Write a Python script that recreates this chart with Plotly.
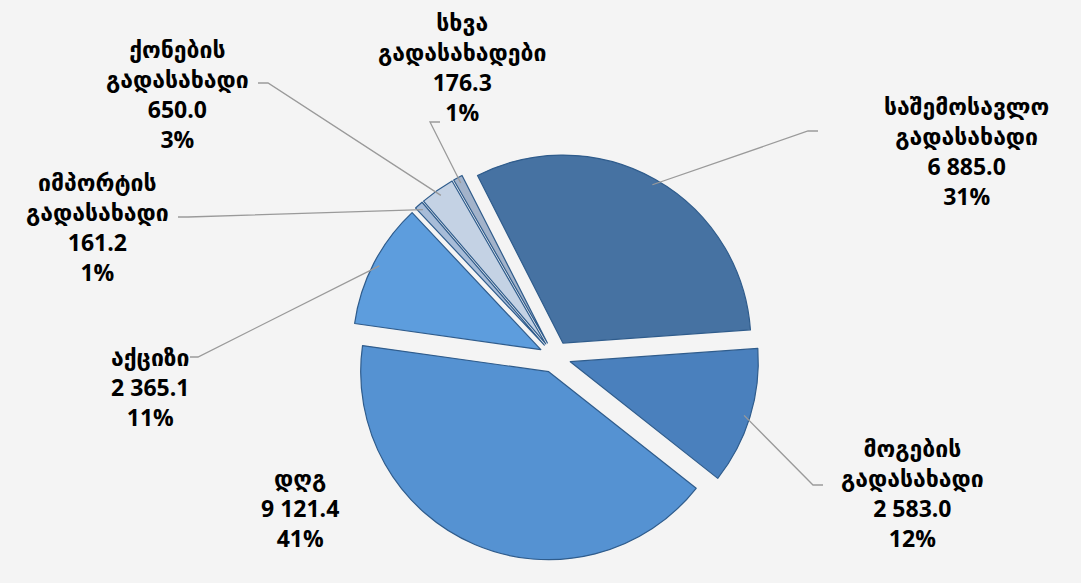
import math
import plotly.graph_objects as go

# ---- data ----
categories = ["საშემოსავლო გადასახადი", "მოგების გადასახადი", "დღგ", "აქციზი",
              "იმპორტის გადასახადი", "ქონების გადასახადი", "სხვა გადასახადები"]
values = [6885.0, 2583.0, 9121.4, 2365.1, 161.2, 650.0, 176.3]
percent_labels = [31, 12, 41, 11, 1, 3, 1]

# ---- style ----
colors = ["#4672A2", "#4A80BD", "#5592D2", "#5D9DDD", "#A7BCD8", "#C4D2E4", "#A3B3CA"]
W, H = 1081, 583
CX, CY = 555, 357      # pie centre in px
R_OUT = 204            # half-size of pie box (includes pull)
PULL = 0.085
ROTATION = -27
FONT = "Open Sans, DejaVu Sans, sans-serif"
BG = "#F4F4F4"

# label placement: (centre x, centre y, leader start x, leader start y, stub dx) in px
label_pos = [
    (966, 151, 818, 131, -10),
    (912, 493, 823, 485, -10),
    (300, 508, None, None, 0),
    (150, 387, 190, 357, 8),
    (97, 227, 178, 217, 10),
    (177, 94, 258, 83, 10),
    (462, 67, 440, 122, -10),
]

domain_x = [(CX - R_OUT) / W, (CX + R_OUT) / W]
domain_y = [1 - (CY + R_OUT) / H, 1 - (CY - R_OUT) / H]
total = sum(values)


def px(x):
    return x / W


def py(y):
    return 1 - y / H


fig = go.Figure(go.Pie(
    labels=categories, values=values, sort=False, direction="clockwise",
    rotation=ROTATION, pull=PULL, textinfo="none", hoverinfo="label+value+percent",
    marker=dict(colors=colors, line=dict(color="#2F5C8C", width=1.2)),
    domain=dict(x=domain_x, y=domain_y), showlegend=False,
))

annotations = []
shapes = []
cum = 0.0
for name, v, pct, pos in zip(categories, values, percent_labels, label_pos):
    mid = math.radians(ROTATION + 360 * (cum + v / 2) / total)
    cum += v
    lx, ly, sx, sy, sdx = pos
    val_txt = f"{v:,.1f}".replace(",", " ")
    text = "<b>" + name.replace(" ", "<br>") + f"<br>{val_txt}<br>{pct}%</b>"
    annotations.append(dict(
        x=px(lx), y=py(ly), xref="paper", yref="paper", text=text, showarrow=False,
        xanchor="center", yanchor="middle", align="center",
        font=dict(family=FONT, size=23, color="#000000"),
    ))
    if sx is not None:
        ex = CX + R_OUT * 0.97 * math.sin(mid)
        ey = CY - R_OUT * 0.97 * math.cos(mid)
        bx = sx + sdx
        path = f"M {px(sx)} {py(sy)} L {px(bx)} {py(sy)} L {px(ex)} {py(ey)}"
        shapes.append(dict(type="path", xref="paper", yref="paper", path=path,
                           line=dict(color="#9A9A9A", width=1.3)))

fig.update_layout(
    width=W, height=H, margin=dict(l=0, r=0, t=0, b=0),
    paper_bgcolor=BG, plot_bgcolor=BG,
    annotations=annotations, shapes=shapes,
)

fig.write_html(
    "out.html",
    config={"displayModeBar": False},
    post_script=f"document.body.style.margin='0';document.body.style.background='{BG}';",
)
